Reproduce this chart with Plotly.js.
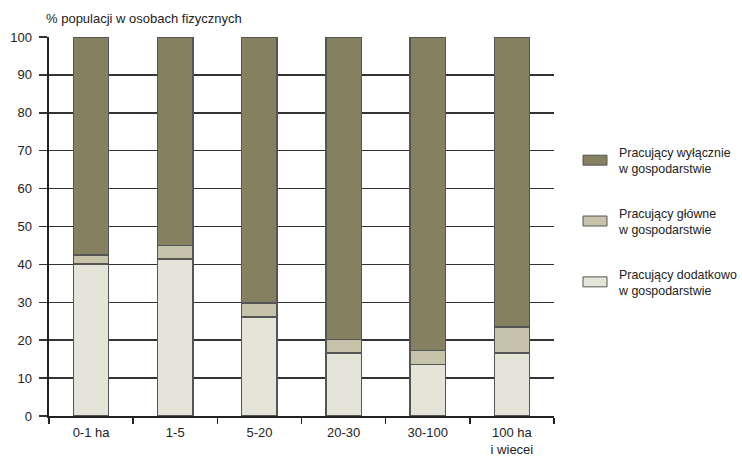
<!DOCTYPE html>
<html>
<head>
<meta charset="utf-8">
<script src="https://cdn.plot.ly/plotly-3.0.1.min.js"></script>
<style>html,body{margin:0;padding:0;background:#fff;}#chart{width:742px;height:457px;}</style>
</head>
<body>
<div id="chart"></div>
<script>
var categories = ["0-1 ha", "1-5", "5-20", "20-30", "30-100", "100 ha<br>i wiecei"];
var dodatkowo = [40.1, 41.4, 26.1, 16.6, 13.6, 16.6];
var glownie = [2.4, 3.5, 3.7, 3.5, 3.6, 6.9];
var wylacznie = [57.5, 55.1, 70.2, 79.9, 82.8, 76.5];
var seriesNames = ["Pracujący dodatkowo<br>w gospodarstwie", "Pracujący główne<br>w gospodarstwie", "Pracujący wyłącznie<br>w gospodarstwie"];
var yTicks = [0, 10, 20, 30, 40, 50, 60, 70, 80, 90, 100];
var yTitle = "% populacji w osobach fizycznych";

var FONT = "Liberation Sans, Arial, sans-serif";
var FS = 13;
var colors = ["#e5e4d8", "#c5c3aa", "#858160"];
var series = [dodatkowo, glownie, wylacznie];

var traces = series.map(function (vals, i) {
  return {
    type: "bar",
    x: categories,
    y: vals,
    name: seriesNames[i],
    marker: { color: colors[i], line: { color: "#555", width: 1.2 } },
    width: 0.42,
    showlegend: false,
    hoverinfo: "skip"
  };
});

// custom legend (top to bottom: wyłącznie, główne, dodatkowo)
var shapes = [];
var annotations = [];
var legendOrder = [2, 1, 0];
var legendY = [160, 221, 282];
legendOrder.forEach(function (si, k) {
  var cy = legendY[k];
  shapes.push({
    type: "rect", xref: "paper", yref: "paper",
    x0: (583 - 49) / 505, x1: (607 - 49) / 505,
    y0: (416.5 - (cy + 5)) / 380, y1: (416.5 - (cy - 5)) / 380,
    fillcolor: colors[si], line: { color: "#555", width: 1 }
  });
  annotations.push({
    xref: "paper", yref: "paper",
    x: (616 - 49) / 505, y: (416.5 - (cy + 1)) / 380,
    xanchor: "left", yanchor: "middle", align: "left",
    text: seriesNames[si], showarrow: false,
    font: { family: FONT, size: 12.4, color: "#222" }
  });
});
annotations.push({
  xref: "paper", yref: "paper", x: 0, y: 1, xshift: -5, yshift: 19,
  xanchor: "left", yanchor: "middle",
  text: yTitle, showarrow: false,
  font: { family: FONT, size: FS, color: "#222" }
});

var layout = {
  width: 742, height: 457,
  margin: { l: 49, r: 188, t: 36.5, b: 40.5, pad: 0 },
  paper_bgcolor: "#fff", plot_bgcolor: "#fff",
  barmode: "stack",
  font: { family: FONT, size: FS, color: "#222" },
  xaxis: {
    type: "category",
    range: [-0.5, 5.5],
    showline: true, linecolor: "#222", linewidth: 2,
    ticks: "outside", tickson: "boundaries", ticklen: 6, tickwidth: 1.5, tickcolor: "#222",
    ticklabelstandoff: 3,
    showgrid: false, zeroline: false,
    tickfont: { family: FONT, size: FS, color: "#222" }
  },
  yaxis: {
    range: [0, 100],
    tickvals: yTicks,
    ticks: "outside", ticklen: 8, tickwidth: 1.5, tickcolor: "#333",
    ticklabelstandoff: 4,
    showline: true, linecolor: "#222", linewidth: 2.5,
    showgrid: true, gridcolor: "#333", gridwidth: 1.5,
    zeroline: false,
    tickfont: { family: FONT, size: FS, color: "#222" }
  },
  shapes: shapes,
  annotations: annotations
};

Plotly.newPlot("chart", traces, layout, { displayModeBar: false, staticPlot: true });
</script>
</body>
</html>
